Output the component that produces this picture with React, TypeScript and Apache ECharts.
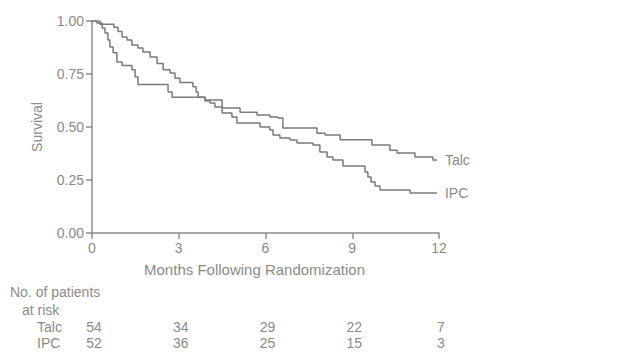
import React, { useEffect, useRef } from "react";
import * as echarts from "echarts";

const talc: [number, number][] = [
  [0, 1.0], [0.28, 0.985], [0.76, 0.97], [0.9, 0.95], [1.04, 0.925], [1.21, 0.91],
  [1.38, 0.887], [1.59, 0.873], [1.76, 0.854], [2.01, 0.83], [2.25, 0.8], [2.46, 0.77],
  [2.7, 0.755], [2.87, 0.73], [3.04, 0.71], [3.49, 0.69], [3.6, 0.665], [3.67, 0.64],
  [3.91, 0.627], [4.5, 0.59], [5.12, 0.57], [5.71, 0.557], [6.15, 0.547], [6.43, 0.542],
  [6.6, 0.495], [7.78, 0.47], [8.06, 0.462], [8.58, 0.44], [9.68, 0.415], [10.3, 0.39],
  [10.55, 0.377], [11.17, 0.358], [11.79, 0.344], [11.93, 0.344],
];

const ipc: [number, number][] = [
  [0, 1.0], [0.17, 0.99], [0.35, 0.967], [0.45, 0.943], [0.55, 0.91], [0.62, 0.877],
  [0.73, 0.85], [0.86, 0.807], [1.04, 0.79], [1.38, 0.77], [1.49, 0.736], [1.59, 0.7],
  [2.63, 0.665], [2.77, 0.64], [3.91, 0.623], [4.08, 0.613], [4.25, 0.594], [4.5, 0.566],
  [4.84, 0.547], [5.01, 0.519], [5.81, 0.5], [6.15, 0.486], [6.26, 0.462], [6.5, 0.448],
  [6.85, 0.439], [7.09, 0.425], [7.64, 0.415], [7.88, 0.382], [8.13, 0.358], [8.33, 0.344],
  [8.68, 0.316], [9.44, 0.288], [9.54, 0.264], [9.65, 0.24], [9.79, 0.222], [9.96, 0.203],
  [11.0, 0.189], [11.93, 0.189],
];

const riskTimes = [0, 3, 6, 9, 12];
const talcAtRisk = [54, 34, 29, 22, 7];
const ipcAtRisk = [52, 36, 25, 15, 3];

const FONT = "'Liberation Sans', Arial, sans-serif";
const TXT = "#8a8a8a";
const LINE = "#7a7a7a";
const AXIS = "#8c8c8c";

export default function App() {
  const ref = useRef<HTMLDivElement>(null);
  useEffect(() => {
    if (!ref.current) return;
    const chart = echarts.init(ref.current, null, { renderer: "svg" });
    const seriesCommon = {
      type: "line",
      step: "end",
      showSymbol: false,
      symbol: "none",
      color: LINE,
      lineStyle: { color: LINE, width: 1.5 },
      itemStyle: { color: LINE },
      endLabel: {
        show: true,
        formatter: "{a}",
        color: TXT,
        fontSize: 14,
        fontFamily: FONT,
        distance: 8,
      },
    };
    chart.setOption({
      animation: false,
      backgroundColor: "#ffffff",
      color: [LINE, LINE],
      grid: { left: 92, right: 188, top: 21, bottom: 127, outerBoundsMode: "none" },
      xAxis: {
        type: "value",
        min: 0,
        max: 12,
        interval: 3,
        name: "Months Following Randomization",
        nameLocation: "middle",
        nameGap: 29,
        nameTextStyle: { color: TXT, fontSize: 15, fontFamily: FONT, padding: [0, 22, 0, 0] },
        axisLine: { show: true, lineStyle: { color: AXIS, width: 1.5 } },
        axisTick: { show: true, length: 6, lineStyle: { color: AXIS, width: 1.5 } },
        axisLabel: { color: TXT, fontSize: 14, fontFamily: FONT, margin: 8 },
        splitLine: { show: false },
      },
      yAxis: {
        type: "value",
        min: 0,
        max: 1,
        interval: 0.25,
        name: "Survival",
        nameLocation: "middle",
        nameGap: 48,
        nameTextStyle: { color: TXT, fontSize: 14, fontFamily: FONT },
        axisLine: { show: true, lineStyle: { color: AXIS, width: 1.5 } },
        axisTick: { show: true, length: 6, lineStyle: { color: AXIS, width: 1.5 } },
        axisLabel: {
          color: TXT,
          fontSize: 14,
          fontFamily: FONT,
          margin: 8,
          formatter: (v: number) => v.toFixed(2),
        },
        splitLine: { show: false },
      },
      series: [
        { ...seriesCommon, name: "Talc", data: talc },
        { ...seriesCommon, name: "IPC", data: ipc },
      ],
    });

    const textStyle = (x: number, y: number, text: string, align = "left") => ({
      type: "text",
      x,
      y,
      style: {
        text,
        fill: TXT,
        fontSize: 14,
        fontFamily: FONT,
        align,
        verticalAlign: "middle",
      },
    });
    const elements: any[] = [
      textStyle(10, 292, "No. of patients"),
      textStyle(22, 310, "at risk"),
      textStyle(37, 327, "Talc"),
      textStyle(37, 343, "IPC"),
    ];
    riskTimes.forEach((t, i) => {
      const px = chart.convertToPixel({ xAxisIndex: 0 }, t) as number;
      elements.push(textStyle(px + 2, 327, String(talcAtRisk[i]), "center"));
      elements.push(textStyle(px + 2, 343, String(ipcAtRisk[i]), "center"));
    });
    chart.setOption({ graphic: { elements } });

    return () => chart.dispose();
  }, []);
  return (
    <div
      ref={ref}
      style={{ position: "fixed", left: 0, top: 0, width: 627, height: 360, background: "#fff" }}
    />
  );
}
